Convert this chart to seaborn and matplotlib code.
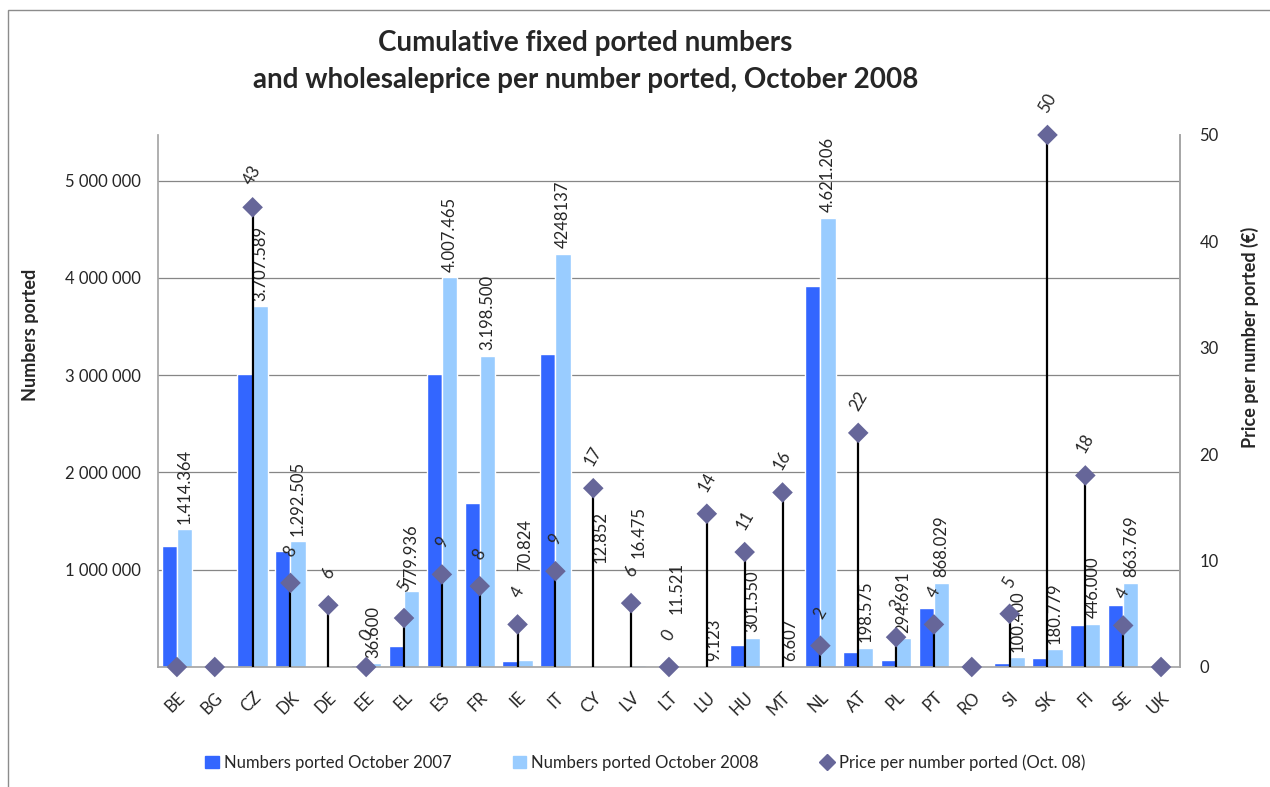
# Cumulative fixed ported numbers and wholesale price per number ported, Oct 2008

import numpy as np
import pandas as pd
import matplotlib
matplotlib.use("Agg")
import matplotlib.pyplot as plt
from matplotlib.lines import Line2D
from matplotlib.patches import Patch, Rectangle
from matplotlib.ticker import FuncFormatter
import seaborn as sns

# Data
countries = ["BE", "BG", "CZ", "DK", "DE", "EE", "EL", "ES", "FR", "IE", "IT", "CY", "LV", "LT",
             "LU", "HU", "MT", "NL", "AT", "PL", "PT", "RO", "SI", "SK", "FI", "SE", "UK"]
ported_2007 = [1245000, 0, 3010000, 1195000, 0, 25000, 220000, 3010000, 1690000, 62000,
               3220000, 15000, 15000, 0, 0, 225000, 0, 3920000, 152000, 70000,
               610000, 0, 45000, 90000, 430000, 640000, 0]
ported_2008 = [1414364, 0, 3707589, 1292505, 0, 36600, 779936, 4007465, 3198500, 70824,
               4248137, 12852, 16475, 11521, 9123, 301550, 6607, 4621206, 198575, 294691,
               868029, 0, 100400, 180779, 446000, 863769, 0]
labels_2008 = ["1.414.364", "", "3.707.589", "1.292.505", "", "36.600", "779.936", "4.007.465",
               "3.198.500", "70.824", "4248137", "12.852", "16.475", "11.521", "9.123",
               "301.550", "6.607", "4.621.206", "198.575", "294.691", "868.029", "", "100.400",
               "180.779", "446.000", "863.769", ""]
price = [0, 0, 43.2, 7.9, 5.8, 0, 4.6, 8.7, 7.6, 4.0, 9.0, 16.8, 6.0, 0, 14.4, 10.8, 16.4,
         2.0, 22.0, 2.8, 4.0, 0, 5.0, 50.0, 18.0, 3.9, 0]
price_labels = ["", "", "43", "8", "6", "0", "5", "9", "8", "4", "9", "17", "6", "0", "14",
                "11", "16", "2", "22", "3", "4", "", "5", "50", "18", "4", ""]

series_names = ["Numbers ported October 2007", "Numbers ported October 2008"]
price_name = "Price per number ported (Oct. 08)"

# labels that were dragged up by hand in the original (points)
label_raise = {"IE": 60, "CY": 70, "LV": 73, "LT": 33}

dark_blue = "#3366FF"
light_blue = "#99CCFF"
diamond_col = "#666699"
axis_grey = "#A6A6A6"

sns.set_theme(style="white")
plt.rcParams["font.family"] = ["Lato", "DejaVu Sans"]

n = len(countries)
df = pd.DataFrame({
    "country": countries * 2,
    "value": ported_2007 + ported_2008,
    "series": [series_names[0]] * n + [series_names[1]] * n,
})

fig = plt.figure(figsize=(12.7, 7.87), dpi=100)
ax = fig.add_axes([0.1244, 0.1525, 0.8047, 0.676])

sns.barplot(data=df, x="country", y="value", hue="series", order=countries,
            hue_order=series_names, palette=[dark_blue, light_blue], saturation=1,
            width=0.8, errorbar=None, legend=False, ax=ax)

ax.set_xlim(-0.5, n - 0.5)
ax.set_ylim(0, 5.47e6)
ax.set_yticks(np.arange(1, 6) * 1e6)
ax.yaxis.set_major_formatter(FuncFormatter(lambda v, p: f"{int(v):,}".replace(",", " ")))
ax.grid(axis="y", color="#868686", lw=0.9)
ax.set_axisbelow(True)
ax.set_xticks(range(n))
ax.set_xticklabels(countries, rotation=45, ha="right", rotation_mode="anchor")
ax.tick_params(axis="y", length=0, labelsize=12, pad=12)
ax.tick_params(axis="x", length=0, labelsize=12, pad=16)
ax.set_xlabel("")
ax.set_ylabel("")
ax.spines["top"].set_visible(False)
for s in ["left", "bottom", "right"]:
    ax.spines[s].set_color(axis_grey)

# data labels on the 2008 bars
for bar, lab, c in zip(ax.containers[1], labels_2008, countries):
    if not lab:
        continue
    x = bar.get_x() + bar.get_width() / 2
    ax.annotate(lab, (x, bar.get_height()), xytext=(0, 4 + label_raise.get(c, 0)),
                textcoords="offset points", rotation=90, ha="center", va="bottom",
                fontsize=12, annotation_clip=False)

# price per number on the secondary axis
ax2 = ax.twinx()
xpos = np.arange(n)
price_arr = np.array(price)
has_price = price_arr > 0
ax2.vlines(xpos[has_price], 0, price_arr[has_price], color="black", lw=1.6, zorder=2)
sns.scatterplot(x=xpos, y=price_arr, marker="D", s=110, color=diamond_col, edgecolor="none",
                legend=False, ax=ax2, zorder=3, clip_on=False)
for i, lab in enumerate(price_labels):
    if lab:
        ax2.annotate(lab, (i, price[i]), xytext=(0, 23), textcoords="offset points",
                     rotation=60, ha="center", va="center", fontsize=12,
                     annotation_clip=False)

ax2.set_xlim(-0.5, n - 0.5)
ax2.set_ylim(0, 50)
ax2.set_yticks(range(0, 51, 10))
ax2.tick_params(axis="y", length=0, labelsize=12, pad=14)
ax2.set_xlabel("")
ax2.set_ylabel("")
for s in ["left", "top", "bottom"]:
    ax2.spines[s].set_visible(False)
ax2.spines["right"].set_color(axis_grey)

fig.text(0.461, 0.922,
         "Cumulative fixed ported numbers\nand wholesaleprice per number ported, October 2008",
         ha="center", va="center", fontsize=20, fontweight="bold", linespacing=1.55)
fig.text(0.024, 0.574, "Numbers ported", rotation=90, ha="center", va="center",
         fontsize=13, fontweight="bold")
fig.text(0.984, 0.571, "Price per number ported (€)", rotation=90, ha="center", va="center",
         fontsize=13, fontweight="bold")

handles = [Patch(color=dark_blue), Patch(color=light_blue),
           Line2D([], [], marker="D", ls="none", color=diamond_col, markersize=8)]
fig.legend(handles, series_names + [price_name], loc="center", bbox_to_anchor=(0.508, 0.031),
           ncol=3, frameon=False, fontsize=12, handlelength=0.8, handleheight=0.8,
           columnspacing=3.7, handletextpad=0.3)

# chart frame (left and top edges visible in the original)
fig.add_artist(Rectangle((8 / 1270, -0.05), 1.2, 1 - 10 / 787 + 0.05,
                         transform=fig.transFigure, fill=False, edgecolor="#8c8c8c", lw=1))

fig.savefig("out.png", dpi=100)
